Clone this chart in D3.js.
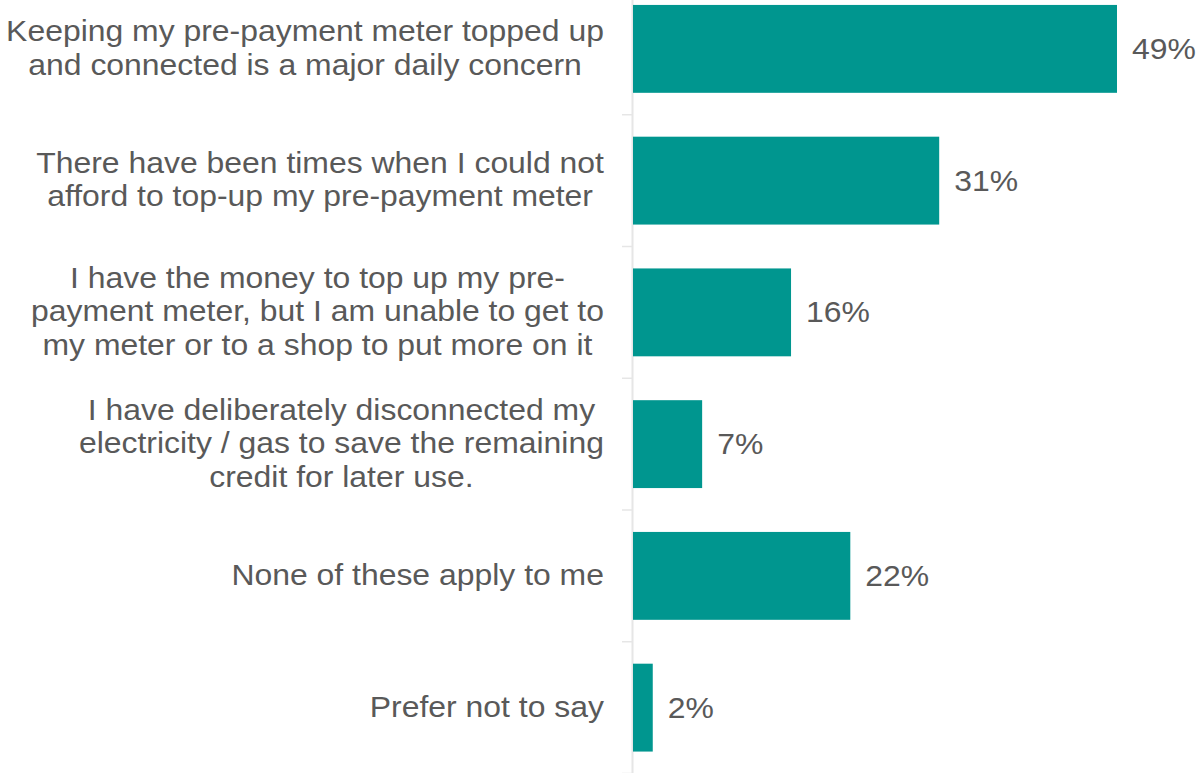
<!DOCTYPE html>
<html>
<head>
<meta charset="utf-8">
<script src="https://cdn.jsdelivr.net/npm/d3@7"></script>
<style>
  html, body { margin: 0; padding: 0; background: #ffffff; }
  svg { display: block; }
</style>
</head>
<body>
<div id="chart"></div>
<script>
// Survey responses: pre-payment meter experiences
const categories = [
  ["Keeping my pre-payment meter topped up", "and connected is a major daily concern"],
  ["There have been times when I could not", "afford to top-up my pre-payment meter"],
  ["I have the money to top up my pre-", "payment meter, but I am unable to get to", "my meter or to a shop to put more on it"],
  ["I have deliberately disconnected my", "electricity / gas to save the remaining", "credit for later use."],
  ["None of these apply to me"],
  ["Prefer not to say"]
];
const values = [49, 31, 16, 7, 22, 2];
const valueLabels = ["49%", "31%", "16%", "7%", "22%", "2%"];

const width = 1197, height = 773;
const axisX = 633;
const fontSize = 30;
const stretchX = 1.064;   // text is set slightly wide
const textColor = "#595959";
const barColor = "#00968F";

const svg = d3.select("#chart").append("svg")
  .attr("width", width)
  .attr("height", height)
  .style("font-family", "'Liberation Sans', Arial, sans-serif");

const ids = categories.map((c, i) => i);

const y = d3.scaleBand()
  .domain(ids)
  .range([-17, 773.5])
  .paddingInner(0.333)
  .paddingOuter(0.1665);

const x = d3.scaleLinear()
  .domain([0, 49])
  .range([axisX, axisX + 484]);

// category axis line with tick marks at band boundaries
const step = y.step();
const r0 = y.range()[0];
const g = svg.append("g");
g.append("line")
  .attr("x1", axisX - 0.5).attr("x2", axisX - 0.5)
  .attr("y1", r0).attr("y2", y.range()[1])
  .attr("stroke", "#e6e6e6").attr("stroke-width", 2);
g.selectAll("line.tick")
  .data(d3.range(ids.length + 1))
  .join("line")
  .attr("class", "tick")
  .attr("x1", axisX - 11).attr("x2", axisX)
  .attr("y1", i => r0 + i * step)
  .attr("y2", i => r0 + i * step)
  .attr("stroke", "#e6e6e6").attr("stroke-width", 1.5);

// bars
svg.selectAll("rect.bar")
  .data(values)
  .join("rect")
  .attr("class", "bar")
  .attr("x", x(0))
  .attr("y", (d, i) => y(i))
  .attr("width", d => x(d) - x(0))
  .attr("height", y.bandwidth())
  .attr("fill", barColor);

// value labels
svg.selectAll("text.value")
  .data(values)
  .join("text")
  .attr("class", "value")
  .attr("transform", (d, i) =>
    `translate(${x(d) + 15},${y(i) + y.bandwidth() / 2}) scale(${stretchX},1)`)
  .attr("dy", "0.33em")
  .attr("font-size", fontSize)
  .attr("fill", textColor)
  .text((d, i) => valueLabels[i]);

// category labels: lines centred on each other, block right edge at a fixed x
const labelRight = 604;
const lineH = 33.5;
categories.forEach((lines, i) => {
  const cy = y(i) + y.bandwidth() / 2;
  const t = svg.append("text")
    .attr("font-size", fontSize)
    .attr("fill", textColor)
    .attr("text-anchor", "middle");
  const spans = lines.map((ln, j) => t.append("tspan")
    .attr("x", 0)
    .attr("y", (j - (lines.length - 1) / 2) * lineH)
    .attr("dy", "0.3em")
    .text(ln));
  const maxW = d3.max(spans, s => s.node().getComputedTextLength()) * stretchX;
  t.attr("transform", `translate(${labelRight - maxW / 2},${cy}) scale(${stretchX},1)`);
});
</script>
</body>
</html>
